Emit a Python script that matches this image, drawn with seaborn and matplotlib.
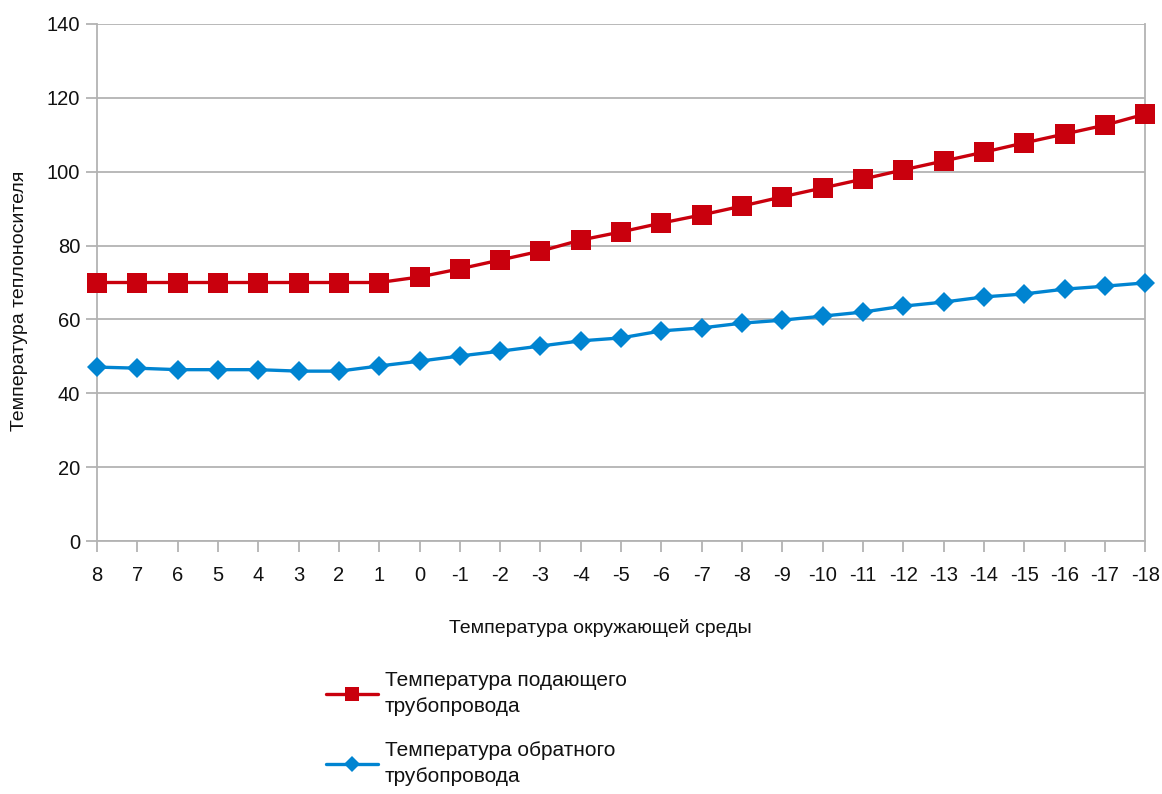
import numpy as np
import pandas as pd
import seaborn as sns
import matplotlib.pyplot as plt

# -------------------- Data --------------------

outdoor_temp = ['8', '7', '6', '5', '4', '3', '2', '1', '0', '-1', '-2', '-3', '-4',
                '-5', '-6', '-7', '-8', '-9', '-10', '-11', '-12', '-13', '-14',
                '-15', '-16', '-17', '-18']

supply_temp = [70, 70, 70, 70, 70, 70, 70, 70, 71.5, 73.7, 76.1, 78.5, 81.5,
               83.7, 86.1, 88.3, 90.7, 93.2, 95.6, 98.0, 100.5, 102.9, 105.3,
               107.8, 110.2, 112.6, 115.6]

return_temp = [47.1, 46.8, 46.4, 46.4, 46.4, 46.0, 46.0, 47.4, 48.7, 50.1, 51.4,
               52.8, 54.2, 55.0, 56.9, 57.7, 59.0, 59.8, 60.9, 62.0, 63.6, 64.7,
               66.1, 66.9, 68.2, 69.0, 69.9]

supply_label = 'Температура подающего\nтрубопровода'
return_label = 'Температура обратного\nтрубопровода'

# -------------------- Plot --------------------

def main():
    sns.set_theme(style='white')
    plt.rcParams['font.family'] = ['Liberation Sans', 'DejaVu Sans']

    df = pd.DataFrame({'x': outdoor_temp, 'supply': supply_temp, 'return': return_temp})

    fig = plt.figure(figsize=(11.62, 7.94), dpi=100)
    ax = fig.add_axes([0.0835, 0.3186, 0.902, 0.6512])

    grid_col = '#b3b3b3'
    text_col = '#111111'
    sns.lineplot(data=df, x='x', y='supply', ax=ax, sort=False, color='#c9000d',
                 linewidth=2.4, marker='s', markersize=14, markeredgewidth=0,
                 label=supply_label, clip_on=False, zorder=4)
    sns.lineplot(data=df, x='x', y='return', ax=ax, sort=False, color='#0084d1',
                 linewidth=2.4, marker='D', markersize=10, markeredgewidth=0,
                 label=return_label, clip_on=False, zorder=4)

    ax.set_xlim(0, len(outdoor_temp) - 1)
    ax.set_ylim(0, 140)
    ax.set_yticks(np.arange(0, 141, 20))
    ax.yaxis.grid(True, color=grid_col, linewidth=1.3)
    ax.set_axisbelow(True)

    for side in ['left', 'bottom', 'right']:
        ax.spines[side].set_color(grid_col)
        ax.spines[side].set_linewidth(1.3)
    ax.spines['top'].set_visible(False)

    ax.tick_params(axis='both', which='major', direction='out', length=8,
                   width=1.3, color=grid_col, labelsize=14.5, labelcolor=text_col,
                   bottom=True, left=True, pad=4)
    ax.tick_params(axis='x', pad=10)

    ax.set_xlabel('Температура окружающей среды', fontsize=14, color=text_col)
    ax.set_ylabel('Температура теплоносителя', fontsize=14, color=text_col)
    ax.xaxis.set_label_coords(0.48, -0.168)
    ax.yaxis.set_label_coords(-0.0735, 0.464)
    ax.xaxis.label.set_verticalalignment('center')
    ax.yaxis.label.set_verticalalignment('center')

    ax.get_legend().remove()
    handles, labels = ax.get_legend_handles_labels()
    leg = fig.legend(handles, labels, loc='upper left', bbox_to_anchor=(0.264, 0.178),
                     frameon=False, fontsize=15, handlelength=2.5, handletextpad=0.35,
                     labelspacing=1.2, labelcolor=text_col)
    for t in leg.get_texts():
        t.set_linespacing(1.45)
    for h, ms in zip(leg.legend_handles, [10, 8]):
        h.set_markersize(ms)

    fig.savefig('out.png', dpi=100)


if __name__ == '__main__':
    main()
